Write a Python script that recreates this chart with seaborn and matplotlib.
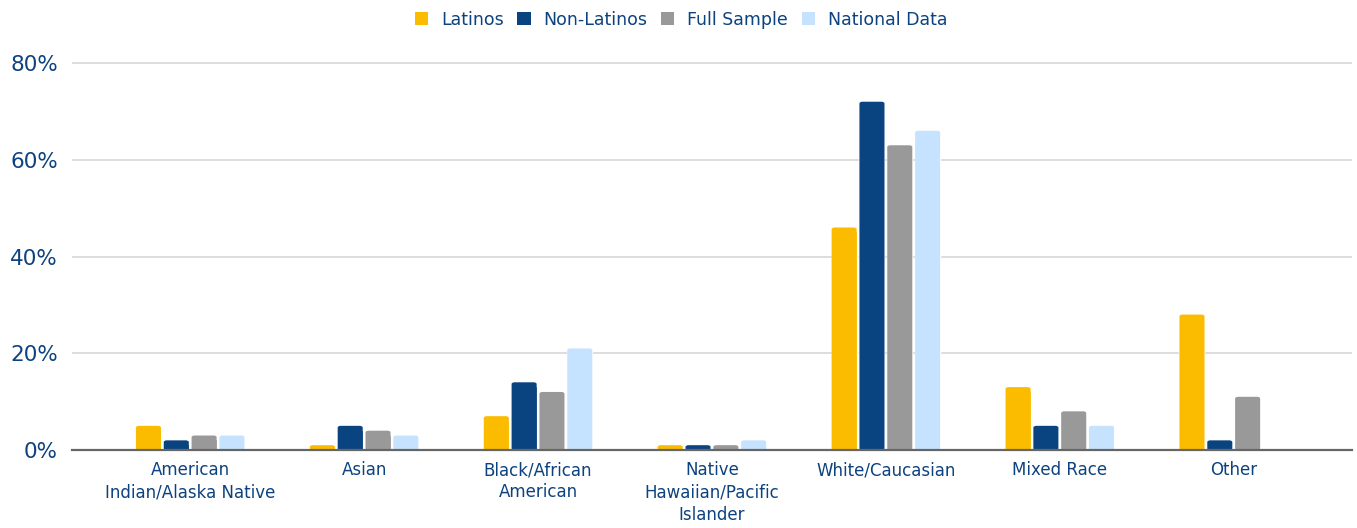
import numpy as np
import pandas as pd
import matplotlib
matplotlib.use("Agg")
import matplotlib.pyplot as plt
from matplotlib.patches import FancyBboxPatch
from matplotlib.ticker import FuncFormatter
import seaborn as sns

categories = [
    "American\nIndian/Alaska Native",
    "Asian",
    "Black/African\nAmerican",
    "Native\nHawaiian/Pacific\nIslander",
    "White/Caucasian",
    "Mixed Race",
    "Other",
]
series_names = ["Latinos", "Non-Latinos", "Full Sample", "National Data"]
latinos = [5, 1, 7, 1, 46, 13, 28]
non_latinos = [2, 5, 14, 1, 72, 5, 2]
full_sample = [3, 4, 12, 1, 63, 8, 11]
national_data = [3, 3, 21, 2, 66, 5, np.nan]
y_ticks = [0, 20, 40, 60, 80]

colors = ["#FBBC00", "#0A4480", "#999999", "#C5E3FF"]
text_color = "#0C427F"

rows = []
for name, vals in zip(series_names, [latinos, non_latinos, full_sample, national_data]):
    for cat, v in zip(categories, vals):
        rows.append({"Race": cat, "Group": name, "Percent": v})
df = pd.DataFrame(rows).dropna()

sns.set_theme(style="white")
plt.rcParams["font.family"] = ["DejaVu Sans"]

fig = plt.figure(figsize=(13.57, 5.28), dpi=100)
ax = fig.add_axes([0.053, 0.1477, 0.9433, 0.7367])

sns.barplot(
    data=df, x="Race", y="Percent", hue="Group",
    order=categories, hue_order=series_names,
    palette=colors, width=0.64, gap=0.1, errorbar=None,
    saturation=1, ax=ax, legend=False,
)

# Soften the bar tops with small rounded corners
for patch in list(ax.patches):
    x, y = patch.get_x(), patch.get_y()
    w, h = patch.get_width(), patch.get_height()
    if not np.isfinite(h) or h <= 0:
        patch.remove()
        continue
    fc = patch.get_facecolor()
    rounded = FancyBboxPatch(
        (x, y), w, h,
        boxstyle="round,pad=0,rounding_size=0.018",
        mutation_aspect=20.0,
        facecolor=fc, edgecolor="none", linewidth=0, zorder=2,
    )
    # square off the bottom corners with the original bar
    patch.set_height(max(h - 0.8, 0))
    patch.set_zorder(2)
    ax.add_patch(rounded)

ax.set_ylim(0, 80.41)
ax.set_xlim(-0.5 - 0.18, len(categories) - 0.5 + 0.18)
ax.set_yticks(y_ticks)
ax.yaxis.set_major_formatter(FuncFormatter(lambda v, p: f"{v:.0f}%"))
ax.grid(axis="y", color="#D3D3D3", linewidth=1.1)
ax.set_axisbelow(True)
for s in ["top", "right", "left"]:
    ax.spines[s].set_visible(False)
ax.spines["bottom"].set_color("#666666")
ax.spines["bottom"].set_linewidth(1.6)
ax.spines["bottom"].set_zorder(5)

ax.set_xlabel("")
ax.set_ylabel("")
ax.tick_params(axis="y", length=0, pad=10, labelsize=15.5, labelcolor=text_color)
ax.tick_params(axis="x", length=0, pad=8, labelsize=12, labelcolor=text_color)
for lbl in ax.get_xticklabels():
    lbl.set_linespacing(1.3)

handles = [plt.Rectangle((0, 0), 1, 1, facecolor=c, edgecolor="none") for c in colors]
ax.legend(
    handles, series_names, loc="upper center", bbox_to_anchor=(0.476, 1.17),
    ncol=4, frameon=False, fontsize=12.5, labelcolor=text_color,
    handlelength=0.75, handleheight=0.75, handletextpad=0.75, columnspacing=0.8,
)

fig.savefig("out.png", dpi=100)
